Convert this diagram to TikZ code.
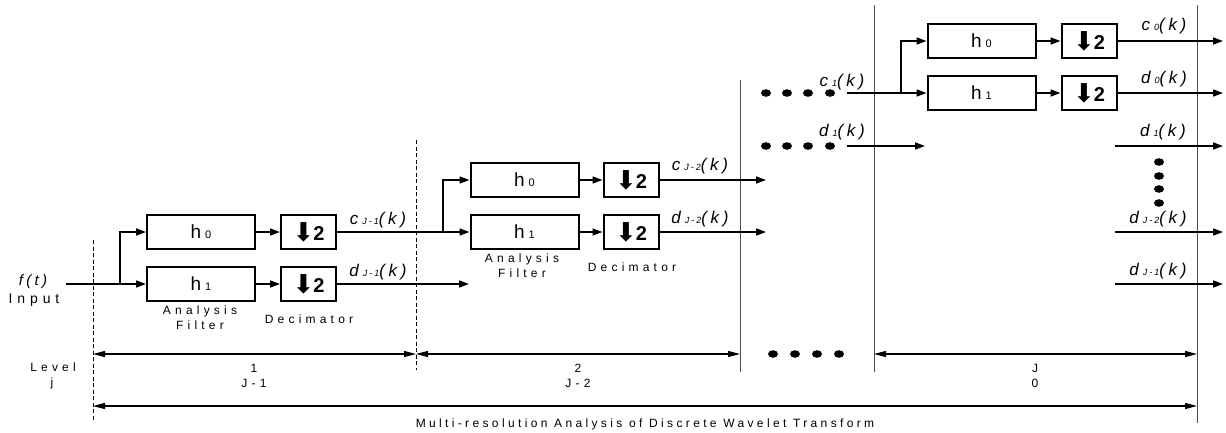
\documentclass[tikz,border=0pt]{standalone}
\usepackage{fontspec}
\setmainfont{Liberation Sans}
\newfontfamily\symfnt{DejaVu Sans}
\newfontfamily\spcfnt[LetterSpace=35]{Liberation Sans}
\newfontfamily\lblfnt[LetterSpace=22]{Liberation Sans}
\usetikzlibrary{arrows.meta}
\newcommand{\hlab}[1]{{\fontsize{19}{19}\selectfont h\hspace{4pt}{\fontsize{11}{11}\selectfont #1}}}
\newcommand{\declab}{{\symfnt\fontsize{26}{26}\selectfont\raisebox{-1pt}{⬇}}\hspace{-1pt}{\bfseries\fontsize{20}{20}\selectfont 2}}
\newcommand{\siglab}[2]{{\lblfnt\itshape\fontsize{17}{17}\selectfont #1\hspace{4pt}{\fontsize{9}{9}\selectfont #2}(k)}}
\begin{document}
\begin{tikzpicture}[x=1pt,y=-1pt,
  filt/.style={draw, line width=2pt, minimum width=108pt, minimum height=34pt, inner sep=0pt},
  decbox/.style={draw, line width=2pt, minimum width=55pt, minimum height=34pt, inner sep=0pt},
  sigline/.style={line width=1.6pt, -{Triangle[length=10pt,width=7pt]}},
  dimline/.style={line width=1.2pt, {Triangle[length=12pt,width=6pt]}-{Triangle[length=12pt,width=6pt]}},
  dashv/.style={line width=0.8pt, dash pattern=on 4pt off 2.5pt},
  solidv/.style={line width=0.8pt, draw=black!70},
  small/.style={font=\spcfnt\fontsize{12}{12}\selectfont, inner sep=0pt},
  lbl/.style={inner sep=0pt},
  dot/.style={fill=black}]
\useasboundingbox (0,0) rectangle (1226,432);

% vertical separators
\draw[dashv] (93,240) -- (93,420);
\draw[dashv] (416,140) -- (416,370);
\draw[solidv] (740,80) -- (740,372);
\draw[solidv] (874,5) -- (874,372);
\draw[solidv] (1197,5) -- (1197,423);

% stage 1
\node[filt] (f0) at (201,232) {\hlab{0}};
\node[filt] (f1) at (201,284) {\hlab{1}};
\node[decbox] (d0) at (308.5,232) {\declab};
\node[decbox] (d1) at (308.5,284) {\declab};
\node[small] (an1) at (200,311) {Analysis};
\node[small] (fi1) at (200,325) {Filter};
\node[small] (de1) at (309,319) {Decimator};
\node[lbl] (ft) at (33,282) {\itshape\lblfnt\fontsize{15}{15}\selectfont f(t)};
\node[small,font=\spcfnt\fontsize{14}{14}\selectfont] (inp) at (34,300) {Input};
\coordinate (in) at (66,284);
\coordinate (b1) at (120,284);
\draw[sigline] (in) -- (f1.west);
\draw[sigline] (b1) |- (f0.west);
\draw[sigline] (f0.east) -- (d0.west);
\draw[sigline] (f1.east) -- (d1.west);
\node[lbl] (cj1) at (378,220) {\siglab{c}{J-1}};
\node[lbl] (dj1) at (378,272) {\siglab{d}{J-1}};

% stage 2
\node[filt] (g0) at (524.5,180) {\hlab{0}};
\node[filt] (g1) at (524.5,232) {\hlab{1}};
\node[decbox] (e0) at (631,180) {\declab};
\node[decbox] (e1) at (631,232) {\declab};
\node[small] (an2) at (522,259) {Analysis};
\node[small] (fi2) at (522,273) {Filter};
\node[small] (de2) at (632,267) {Decimator};
\coordinate (b2) at (443,232);
\coordinate (o1) at (469,284);
\draw[sigline] (d0.east) -- (g1.west);
\draw[sigline] (b2) |- (g0.west);
\draw[sigline] (d1.east) -- (o1);
\draw[sigline] (g0.east) -- (e0.west);
\draw[sigline] (g1.east) -- (e1.west);
\coordinate (o2) at (766,180);
\coordinate (o3) at (766,232);
\draw[sigline] (e0.east) -- (o2);
\draw[sigline] (e1.east) -- (o3);
\node[lbl] (cj2) at (700,166) {\siglab{c}{J-2}};
\node[lbl] (dj2) at (700,219) {\siglab{d}{J-2}};

% dots
\foreach \x in {766,787,808,830}{
  \fill[dot] (\x,93) ellipse [x radius=5, y radius=3.8];
  \fill[dot] (\x,146) ellipse [x radius=5, y radius=3.8];
}
\foreach \x in {773,795,817,839}{
  \fill[dot] (\x,354) ellipse [x radius=5, y radius=3.8];
}
\foreach \y in {162,176,189,203}{
  \fill[dot] (1159,\y) ellipse [x radius=5, y radius=3.8];
}

% stage J
\node[filt] (k0) at (981.5,41) {\hlab{0}};
\node[filt] (k1) at (981.5,93) {\hlab{1}};
\node[decbox] (m0) at (1089,41) {\declab};
\node[decbox] (m1) at (1089,93) {\declab};
\coordinate (cs) at (847,93);
\coordinate (b3) at (901,93);
\draw[sigline] (cs) -- (k1.west);
\draw[sigline] (b3) |- (k0.west);
\draw[sigline] (k0.east) -- (m0.west);
\draw[sigline] (k1.east) -- (m1.west);
\coordinate (p0) at (1223,41);
\coordinate (p1) at (1223,93);
\draw[sigline] (m0.east) -- (p0);
\draw[sigline] (m1.east) -- (p1);
\node[lbl] (c0l) at (1164,26) {\siglab{c}{0}};
\node[lbl] (d0l) at (1164,79) {\siglab{d}{0}};
\node[lbl] (c1l) at (842,82) {\siglab{c}{1}};
\node[lbl] (d1l) at (842,132) {\siglab{d}{1}};
\coordinate (ds) at (847,146);
\coordinate (de) at (925,146);
\draw[sigline] (ds) -- (de);

% right outputs
\coordinate (r1s) at (1115,146); \coordinate (r1e) at (1223,146);
\coordinate (r2s) at (1115,232); \coordinate (r2e) at (1223,232);
\coordinate (r3s) at (1115,284); \coordinate (r3e) at (1223,284);
\draw[sigline] (r1s) -- (r1e);
\draw[sigline] (r2s) -- (r2e);
\draw[sigline] (r3s) -- (r3e);
\node[lbl] (rd1) at (1163,132) {\siglab{d}{1}};
\node[lbl] (rd2) at (1158,219) {\siglab{d}{J-2}};
\node[lbl] (rd3) at (1158,271) {\siglab{d}{J-1}};

% level dimension arrows
\coordinate (l1) at (93,354); \coordinate (l2) at (416,354);
\coordinate (l3) at (740,354); \coordinate (l4) at (874,354);
\coordinate (l5) at (1197,354);
\draw[dimline] (l1) -- (l2);
\draw[dimline] (l2) -- (l3);
\draw[dimline] (l4) -- (l5);
\node[small] (lev) at (53,367) {Level};
\node[small] (levj) at (52,383) {j};
\node[small] (n1) at (254,368) {1};
\node[small] (n1b) at (254,383) {J-1};
\node[small] (n2) at (578,368) {2};
\node[small] (n2b) at (578,383) {J-2};
\node[small] (nJ) at (1035,368) {J};
\node[small] (nJb) at (1035,383) {0};
\coordinate (t1) at (93,406); \coordinate (t2) at (1197,406);
\draw[dimline] (t1) -- (t2);
\node[small,font=\fontsize{12}{12}\selectfont\addfontfeature{LetterSpace=28}] (title) at (645,424) {Multi-resolution Analysis of Discrete Wavelet Transform};
\end{tikzpicture}
\end{document}
